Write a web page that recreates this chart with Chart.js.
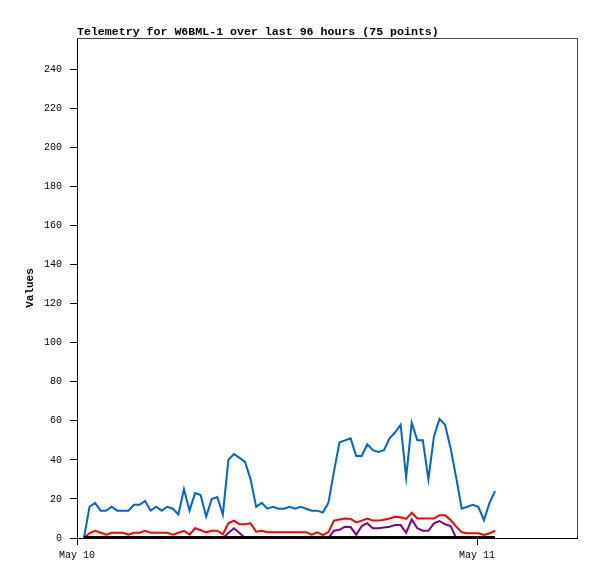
<!DOCTYPE html>
<html>
<head>
<meta charset="utf-8">
<script src="https://cdn.jsdelivr.net/npm/chart.js@4/dist/chart.umd.min.js"></script>
<style>
  html, body { margin: 0; padding: 0; background: #fff; }
  #wrap { width: 597px; height: 579px; }
</style>
</head>
<body>
<div id="wrap"><canvas id="c" width="597" height="579"></canvas></div>
<script>
const titleText = "Telemetry for W6BML-1 over last 96 hours (75 points)";
const yAxisTitle = "Values";

// minutes since May 10 00:00
const times = [25,45,65,85,105,125,145,165,185,205,225,245,265,285,305,325,345,365,385,405,
  425,445,465,485,505,525,545,565,585,605,625,645,665,685,705,725,745,765,785,805,
  825,845,865,885,905,925,945,965,985,1005,1025,1045,1065,1085,1105,1125,1145,1165,1185,1205,
  1225,1245,1265,1285,1305,1325,1345,1365,1385,1405,1425,1445,1465,1485,1505];

const seriesBlue = [0,16,18,14,14,16,14,14,14,17, 17,19,14,16,14,16,15,12,25,14,
  23,22,11,20,21,12,40,43,41,39, 30,16,18,15,16,15,15,16,15,16,
  15,14,14,13,18,34,49,50,51,42, 42,48,45,44,45,51,54,58,31,59,
  50,50,30,52,61,58,46,31,15,16, 17,16,9,18,24];

const seriesRed = [0,2.5,3.7,2.7,1.7,2.7,2.7,2.7,1.7,2.7, 2.7,3.7,2.7,2.7,2.7,2.7,1.7,2.7,3.7,1.7,
  5,4,2.9,3.7,3.7,1.9,7.5,8.9,7,7, 7.5,3.2,3.7,2.9,2.9,2.9,2.9,2.9,2.9,2.9,
  2.9,1.7,2.9,1.5,3,8.9,9.5,10,9.8,8, 8.9,10,8.9,8.9,9.3,10,10.9,10.6,9.8,12.9,
  10,10,10,10,11.7,11.7,9.2,5.8,2.9,2.4, 2.4,2.4,1.5,2.4,3.7];

const seriesPurple = [0,0,0,0,0,0,0,0,0,0, 0,0,0,0,0,0,0,0,0,0,
  0,0,0,0,0,0,2.5,5,2.5,0, 0,0,0,0,0,0,0,0,0,0,
  0,0,0,0,0,3.7,4.2,5.8,5.6,1.7, 6.1,7.6,5,5,5.4,5.8,6.6,6.6,2.7,9.5,
  5,3.7,3.7,7.5,8.7,7,6.1,0,0,0, 0,0,0,0,0];

const seriesGreen = [0,0,0,0,0,0,0,0,0,0, 0,0,0,0,0,0,0,0,0,0,
  0,0,0,0,0,0,0,0,0,0, 0,0,0,0,0,0,0,0,0,0,
  0,0,0,0,0,0,0,0,0,0, 0,0,0,0,0,0,0,0,0,0,
  0,0,0,0,0,0,0,0,0,0, 0,0,0,0,0];

const seriesBlack = [0.5,0.5,0.5,0.5,0.5,0.5,0.5,0.5,0.5,0.5, 0.5,0.5,0.5,0.5,0.5,0.5,0.5,0.5,0.5,0.5,
  0.5,0.5,0.5,0.5,0.5,0.5,0.5,0.5,0.5,0.5, 0.5,0.5,0.5,0.5,0.5,0.5,0.5,0.5,0.5,0.5,
  0.5,0.5,0.5,0.5,0.5,0.5,0.5,0.5,0.5,0.5, 0.5,0.5,0.5,0.5,0.5,0.5,0.5,0.5,0.5,0.5,
  0.5,0.5,0.5,0.5,0.5,0.5,0.5,0.5,0.5,0.5, 0.5,0.5,0.5,0.5,0.5];

const xTickValues = [0, 1440];
const xTickLabels = ["May 10", "May 11"];
const yTickValues = [0,20,40,60,80,100,120,140,160,180,200,220,240];
const xMin = 0, xMax = 1800, yMin = 0, yMax = 256;

function pts(vals) { return vals.map((v, i) => ({ x: times[i], y: v })); }
function ds(label, vals, color) {
  return { label, data: pts(vals), borderColor: color, backgroundColor: color,
    borderWidth: 2, pointRadius: 0, tension: 0, fill: false };
}

const framePlugin = {
  id: 'frame',
  afterDraw(chart) {
    const { ctx, chartArea: a } = chart;
    ctx.save();
    ctx.strokeStyle = '#444';
    ctx.lineWidth = 1;
    ctx.beginPath();
    ctx.moveTo(a.left, a.top + 0.5);
    ctx.lineTo(a.right + 0.5, a.top + 0.5);
    ctx.lineTo(a.right + 0.5, a.bottom);
    ctx.stroke();
    ctx.font = 'bold 11.6px "Liberation Mono"';
    ctx.fillStyle = '#000';
    ctx.textBaseline = 'alphabetic';
    ctx.textAlign = 'left';
    ctx.fillText(titleText, a.left, a.top - 3);
    ctx.restore();
  }
};

new Chart(document.getElementById('c'), {
  type: 'line',
  data: {
    datasets: [
      ds('black', seriesBlack, '#000000'),
      ds('purple', seriesPurple, '#800080'),
      ds('green', seriesGreen, '#00c000'),
      ds('red', seriesRed, '#ff0000'),
      ds('blue', seriesBlue, '#0066cc')
    ]
  },
  options: {
    responsive: false,
    animation: false,
    devicePixelRatio: 1,
    layout: { padding: { left: 20, top: 38, right: 20, bottom: 0 } },
    plugins: { legend: { display: false }, title: { display: false }, tooltip: { enabled: false } },
    scales: {
      x: {
        type: 'linear', min: xMin, max: xMax,
        afterBuildTicks: (s) => { s.ticks = xTickValues.map(v => ({ value: v })); },
        afterFit: (s) => { s.height = 41; },
        grid: { display: true, drawOnChartArea: false, drawTicks: true, tickLength: 7, color: '#000' },
        border: { display: true, color: '#000', width: 1 },
        ticks: {
          autoSkip: false, maxRotation: 0, padding: 4, color: '#000',
          font: { family: '"Liberation Mono"', size: 10 },
          callback: (v, i) => xTickLabels[i]
        }
      },
      y: {
        type: 'linear', min: yMin, max: yMax,
        afterBuildTicks: (s) => { s.ticks = yTickValues.map(v => ({ value: v })); },
        afterFit: (s) => { s.width = 57; },
        grid: { display: true, drawOnChartArea: false, drawTicks: true, tickLength: 7, color: '#000' },
        border: { display: true, color: '#000', width: 1 },
        title: { display: true, text: yAxisTitle, color: '#000',
          font: { family: '"Liberation Mono"', size: 11, weight: 'bold' }, padding: { top: 4, bottom: 4 } },
        ticks: {
          padding: 8, color: '#000',
          font: { family: '"Liberation Mono"', size: 10 },
          callback: (v) => String(v)
        }
      }
    }
  },
  plugins: [framePlugin]
});
</script>
</body>
</html>
